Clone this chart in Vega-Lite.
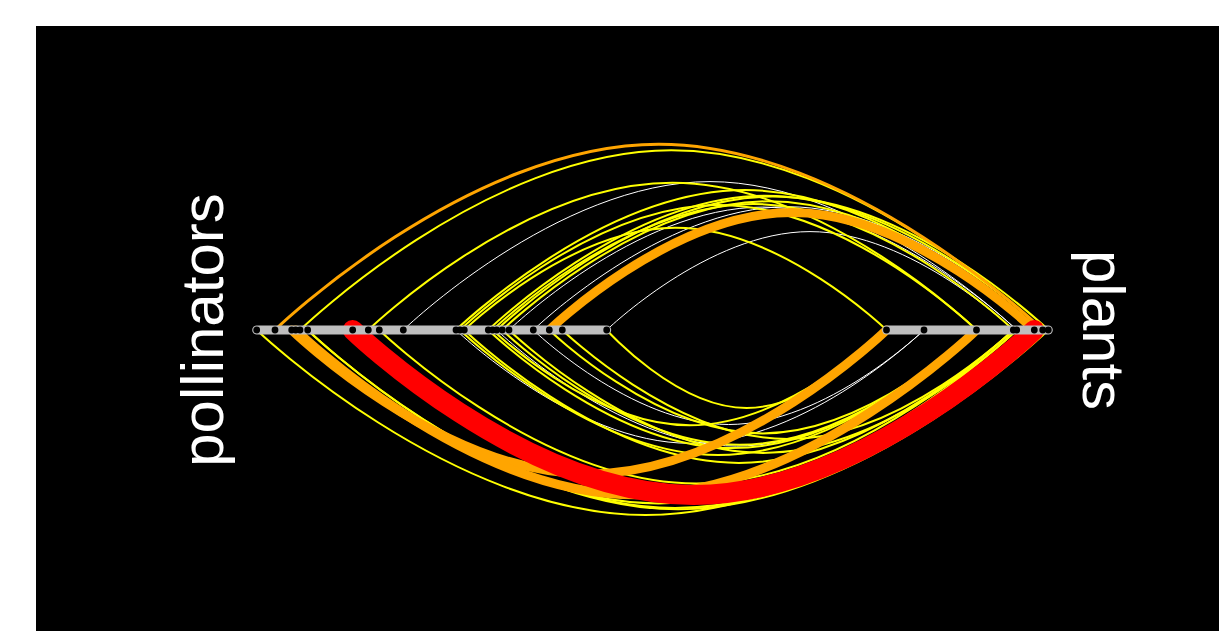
{
  "$schema": "https://vega.github.io/schema/vega-lite/v6.json",
  "width": 1183,
  "height": 605,
  "autosize": "none",
  "padding": {"left": 36, "top": 26, "right": 0, "bottom": 0},
  "background": "white",
  "config": {"view": {"fill": "black", "stroke": null}},
  "datasets": {
    "nodes": [
      {"axis": "pollinators", "x": -4.898}, {"axis": "pollinators", "x": -4.715},
      {"axis": "pollinators", "x": -4.548}, {"axis": "pollinators", "x": -4.508},
      {"axis": "pollinators", "x": -4.465}, {"axis": "pollinators", "x": -4.388},
      {"axis": "pollinators", "x": -3.938}, {"axis": "pollinators", "x": -3.782},
      {"axis": "pollinators", "x": -3.672}, {"axis": "pollinators", "x": -3.432},
      {"axis": "pollinators", "x": -2.905}, {"axis": "pollinators", "x": -2.865},
      {"axis": "pollinators", "x": -2.822}, {"axis": "pollinators", "x": -2.582},
      {"axis": "pollinators", "x": -2.538}, {"axis": "pollinators", "x": -2.498},
      {"axis": "pollinators", "x": -2.442}, {"axis": "pollinators", "x": -2.375},
      {"axis": "pollinators", "x": -2.132}, {"axis": "pollinators", "x": -1.972},
      {"axis": "pollinators", "x": -1.842}, {"axis": "pollinators", "x": -1.398},
      {"axis": "plants", "x": 1.400}, {"axis": "plants", "x": 1.775},
      {"axis": "plants", "x": 2.300}, {"axis": "plants", "x": 2.668},
      {"axis": "plants", "x": 2.702}, {"axis": "plants", "x": 2.878},
      {"axis": "plants", "x": 2.962}, {"axis": "plants", "x": 3.018}
    ],
    "edges": [
      {"edge": "e04", "w": 1, "x": -3.432, "y": 0}, {"edge": "e04", "w": 1, "x": -0.365, "y": 1.484}, {"edge": "e04", "w": 1, "x": 2.702, "y": 0},
      {"edge": "e12", "w": 1, "x": -2.375, "y": 0}, {"edge": "e12", "w": 1, "x": 0.164, "y": 1.229}, {"edge": "e12", "w": 1, "x": 2.702, "y": 0},
      {"edge": "e13", "w": 1, "x": -2.132, "y": 0}, {"edge": "e13", "w": 1, "x": 0.415, "y": 1.233}, {"edge": "e13", "w": 1, "x": 2.962, "y": 0},
      {"edge": "e15", "w": 1, "x": -1.398, "y": 0}, {"edge": "e15", "w": 1, "x": 0.635, "y": 0.984}, {"edge": "e15", "w": 1, "x": 2.668, "y": 0},
      {"edge": "e25", "w": 1, "x": -2.905, "y": 0}, {"edge": "e25", "w": 1, "x": -0.565, "y": -1.133}, {"edge": "e25", "w": 1, "x": 1.775, "y": 0},
      {"edge": "e32", "w": 1, "x": -2.132, "y": 0}, {"edge": "e32", "w": 1, "x": -0.179, "y": -0.945}, {"edge": "e32", "w": 1, "x": 1.775, "y": 0},
      {"edge": "e36", "w": 1, "x": -2.498, "y": 0}, {"edge": "e36", "w": 1, "x": -0.099, "y": -1.161}, {"edge": "e36", "w": 1, "x": 2.300, "y": 0},

      {"edge": "e02", "w": 2, "x": -4.465, "y": 0}, {"edge": "e02", "w": 2, "x": -0.752, "y": 1.797}, {"edge": "e02", "w": 2, "x": 2.962, "y": 0},
      {"edge": "e03", "w": 2, "x": -3.782, "y": 0}, {"edge": "e03", "w": 2, "x": -0.741, "y": 1.472}, {"edge": "e03", "w": 2, "x": 2.300, "y": 0},
      {"edge": "e05", "w": 2, "x": -2.905, "y": 0}, {"edge": "e05", "w": 2, "x": -0.014, "y": 1.399}, {"edge": "e05", "w": 2, "x": 2.878, "y": 0},
      {"edge": "e06", "w": 2, "x": -2.865, "y": 0}, {"edge": "e06", "w": 2, "x": -0.283, "y": 1.250}, {"edge": "e06", "w": 2, "x": 2.300, "y": 0},
      {"edge": "e07", "w": 2, "x": -2.822, "y": 0}, {"edge": "e07", "w": 2, "x": -0.711, "y": 1.022}, {"edge": "e07", "w": 2, "x": 1.400, "y": 0},
      {"edge": "e08", "w": 2, "x": -2.582, "y": 0}, {"edge": "e08", "w": 2, "x": 0.190, "y": 1.342}, {"edge": "e08", "w": 2, "x": 2.962, "y": 0},
      {"edge": "e09", "w": 2, "x": -2.538, "y": 0}, {"edge": "e09", "w": 2, "x": 0.065, "y": 1.260}, {"edge": "e09", "w": 2, "x": 2.668, "y": 0},
      {"edge": "e10", "w": 2, "x": -2.498, "y": 0}, {"edge": "e10", "w": 2, "x": 0.260, "y": 1.335}, {"edge": "e10", "w": 2, "x": 3.018, "y": 0},
      {"edge": "e11", "w": 2, "x": -2.442, "y": 0}, {"edge": "e11", "w": 2, "x": 0.218, "y": 1.287}, {"edge": "e11", "w": 2, "x": 2.878, "y": 0},
      {"edge": "e17", "w": 2, "x": -4.898, "y": 0}, {"edge": "e17", "w": 2, "x": -1.010, "y": -1.850}, {"edge": "e17", "w": 2, "x": 2.878, "y": 0},
      {"edge": "e20", "w": 2, "x": -4.465, "y": 0}, {"edge": "e20", "w": 2, "x": -0.882, "y": -1.734}, {"edge": "e20", "w": 2, "x": 2.702, "y": 0},
      {"edge": "e21", "w": 2, "x": -4.388, "y": 0}, {"edge": "e21", "w": 2, "x": -0.713, "y": -1.779}, {"edge": "e21", "w": 2, "x": 2.962, "y": 0},
      {"edge": "e22", "w": 2, "x": -4.388, "y": 0}, {"edge": "e22", "w": 2, "x": -0.685, "y": -1.792}, {"edge": "e22", "w": 2, "x": 3.018, "y": 0},
      {"edge": "e24", "w": 2, "x": -3.672, "y": 0}, {"edge": "e24", "w": 2, "x": -0.502, "y": -1.534}, {"edge": "e24", "w": 2, "x": 2.668, "y": 0},
      {"edge": "e26", "w": 2, "x": -2.865, "y": 0}, {"edge": "e26", "w": 2, "x": -0.283, "y": -1.250}, {"edge": "e26", "w": 2, "x": 2.300, "y": 0},
      {"edge": "e27", "w": 2, "x": -2.822, "y": 0}, {"edge": "e27", "w": 2, "x": -0.077, "y": -1.329}, {"edge": "e27", "w": 2, "x": 2.668, "y": 0},
      {"edge": "e28", "w": 2, "x": -2.582, "y": 0}, {"edge": "e28", "w": 2, "x": -0.141, "y": -1.181}, {"edge": "e28", "w": 2, "x": 2.300, "y": 0},
      {"edge": "e29", "w": 2, "x": -2.538, "y": 0}, {"edge": "e29", "w": 2, "x": -0.569, "y": -0.953}, {"edge": "e29", "w": 2, "x": 1.400, "y": 0},
      {"edge": "e30", "w": 2, "x": -2.442, "y": 0}, {"edge": "e30", "w": 2, "x": -0.071, "y": -1.148}, {"edge": "e30", "w": 2, "x": 2.300, "y": 0},
      {"edge": "e31", "w": 2, "x": -2.375, "y": 0}, {"edge": "e31", "w": 2, "x": 0.164, "y": -1.229}, {"edge": "e31", "w": 2, "x": 2.702, "y": 0},
      {"edge": "e33", "w": 2, "x": -1.972, "y": 0}, {"edge": "e33", "w": 2, "x": 0.164, "y": -1.034}, {"edge": "e33", "w": 2, "x": 2.300, "y": 0},
      {"edge": "e34", "w": 2, "x": -1.842, "y": 0}, {"edge": "e34", "w": 2, "x": 0.413, "y": -1.091}, {"edge": "e34", "w": 2, "x": 2.668, "y": 0},
      {"edge": "e35", "w": 2, "x": -1.398, "y": 0}, {"edge": "e35", "w": 2, "x": 0.001, "y": -0.780}, {"edge": "e35", "w": 2, "x": 1.400, "y": 0},

      {"edge": "e01", "w": 3, "x": -4.715, "y": 0}, {"edge": "e01", "w": 3, "x": -0.877, "y": 1.858}, {"edge": "e01", "w": 3, "x": 2.962, "y": 0},

      {"edge": "e14", "w": 9, "x": -1.972, "y": 0}, {"edge": "e14", "w": 9, "x": 0.453, "y": 1.174}, {"edge": "e14", "w": 9, "x": 2.878, "y": 0},
      {"edge": "e18", "w": 9, "x": -4.548, "y": 0}, {"edge": "e18", "w": 9, "x": -1.574, "y": -1.439}, {"edge": "e18", "w": 9, "x": 1.400, "y": 0},
      {"edge": "e19", "w": 9, "x": -4.508, "y": 0}, {"edge": "e19", "w": 9, "x": -1.104, "y": -1.648}, {"edge": "e19", "w": 9, "x": 2.300, "y": 0},

      {"edge": "e23", "w": 20, "x": -3.938, "y": 0}, {"edge": "e23", "w": 20, "x": -0.530, "y": -1.649}, {"edge": "e23", "w": 20, "x": 2.878, "y": 0}
    ]
  },
  "layer": [
    {
      "data": {"name": "edges"},
      "mark": {"type": "line", "interpolate": "cardinal", "tension": -0.5, "strokeCap": "round", "strokeJoin": "round"},
      "encoding": {
        "x": {"field": "x", "type": "quantitative", "axis": null,
              "scale": {"domain": [-7.105, 4.725], "nice": false, "zero": false}},
        "y": {"field": "y", "type": "quantitative", "axis": null,
              "scale": {"domain": [-3.01, 3.04], "nice": false, "zero": false}},
        "detail": {"field": "edge"},
        "color": {"field": "w", "type": "quantitative", "legend": null,
                  "scale": {"type": "threshold", "domain": [2, 3, 15],
                            "range": ["#ffffff", "#ffff00", "#ffa500", "#ff0000"]}},
        "strokeWidth": {"field": "w", "type": "quantitative", "legend": null,
                        "scale": {"type": "linear", "domain": [0, 20], "range": [0, 20]}}
      }
    },
    {
      "data": {"name": "nodes"},
      "transform": [
        {"aggregate": [{"op": "min", "field": "x", "as": "x0"}, {"op": "max", "field": "x", "as": "x1"}],
         "groupby": ["axis"]}
      ],
      "mark": {"type": "rule", "color": "#bebebe", "strokeWidth": 9, "strokeCap": "round"},
      "encoding": {
        "x": {"field": "x0", "type": "quantitative"},
        "x2": {"field": "x1"},
        "y": {"datum": 0}
      }
    },
    {
      "data": {"name": "nodes"},
      "mark": {"type": "point", "filled": true, "color": "black", "size": 46, "opacity": 1},
      "encoding": {
        "x": {"field": "x", "type": "quantitative"},
        "y": {"datum": 0}
      }
    },
    {
      "data": {"values": [{"label": "pollinators"}]},
      "mark": {"type": "text", "angle": 270, "align": "center", "baseline": "alphabetic",
               "font": "Liberation Sans", "fontSize": 60, "color": "white"},
      "encoding": {
        "x": {"datum": -5.235},
        "y": {"datum": 0},
        "text": {"field": "label"}
      }
    },
    {
      "data": {"values": [{"label": "plants"}]},
      "mark": {"type": "text", "angle": 90, "align": "center", "baseline": "alphabetic",
               "font": "Liberation Sans", "fontSize": 60, "color": "white"},
      "encoding": {
        "x": {"datum": 3.365},
        "y": {"datum": 0},
        "text": {"field": "label"}
      }
    }
  ]
}
